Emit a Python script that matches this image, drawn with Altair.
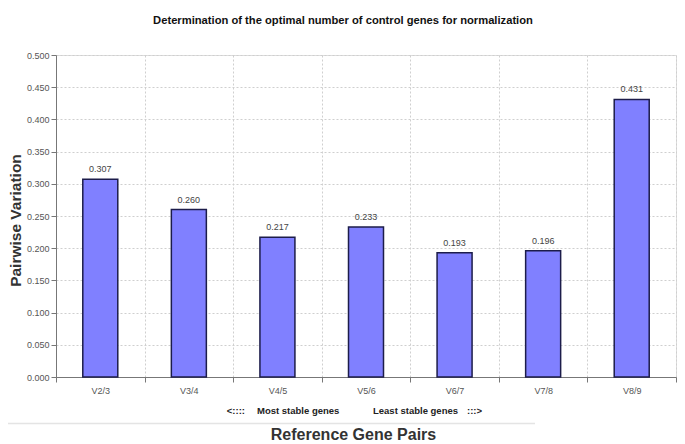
import altair as alt
import pandas as pd

pairs = ["V2/3", "V3/4", "V4/5", "V5/6", "V6/7", "V7/8", "V8/9"]
values = [0.307, 0.260, 0.217, 0.233, 0.193, 0.196, 0.431]
y_ticks = [0.0, 0.05, 0.10, 0.15, 0.20, 0.25, 0.30, 0.35, 0.40, 0.45, 0.50]
notes = ["<::::", "Most stable genes", "Least stable genes", ":::>"]

df = pd.DataFrame({"pair": pairs, "value": values})

W, H = 620, 322
FONT = "Liberation Sans"

xscale = alt.Scale(domain=pairs, paddingInner=0, paddingOuter=0)
yscale = alt.Scale(domain=[0, 0.5], nice=False)

x_enc = alt.X(
    "pair:N", scale=xscale, sort=pairs,
    axis=alt.Axis(
        title="Reference Gene Pairs", titleFont=FONT, titleFontSize=16,
        titleFontWeight="bold", titleColor="#333333", titleBaseline="top",
        titleX=297, titleY=49,
        labelAngle=0, labelFont=FONT, labelFontSize=9, labelColor="#555555",
        labelPadding=4, tickBand="extent", tickSize=5, tickColor="#777777",
        domainColor="#777777", grid=True, gridDash=[2, 2], gridColor="#cfcfcf",
    ),
)
y_enc = alt.Y(
    "value:Q", scale=yscale,
    axis=alt.Axis(
        values=y_ticks, format=".3f", title="Pairwise Variation",
        titleFont=FONT, titleFontSize=15.5, titleFontWeight="bold",
        titleColor="#333333", titleX=-33, titleY=165,
        labelFont=FONT, labelFontSize=9, labelColor="#555555", labelPadding=2,
        labelOverlap=False,
        tickSize=5, tickColor="#777777", domainColor="#777777",
        grid=True, gridDash=[2, 2], gridColor="#cfcfcf",
    ),
)

bars = alt.Chart(df).mark_bar(
    size=35, color="#8080FF", stroke="#1c1c4a", strokeWidth=1.5
).encode(x=x_enc, y=y_enc)

labels = alt.Chart(df).mark_text(
    baseline="bottom", dy=-5, font=FONT, fontSize=9, color="#444444"
).encode(
    x=x_enc,
    y=y_enc,
    text=alt.Text("value:Q", format=".3f"),
)

one = pd.DataFrame({"a": [0]})
sep = alt.Chart(one).mark_rule(color="#e4e4e4", strokeWidth=1.5).encode(
    x=alt.value(-48), x2=alt.value(479), y=alt.value(368.5)
)


def note(text, x, align):
    return alt.Chart(one).mark_text(
        align=align, baseline="middle", font=FONT, fontSize=9.5,
        fontWeight="bold", color="#222222"
    ).encode(x=alt.value(x), y=alt.value(356), text=alt.value(text))


note_layers = [
    note(notes[0], 189, "right"),
    note(notes[1], 201, "left"),
    note(notes[2], 317, "left"),
    note(notes[3], 411, "left"),
]

chart = alt.layer(bars, labels, sep, *note_layers).properties(
    width=W, height=H,
    title=alt.TitleParams(
        "Determination of the optimal number of control genes for normalization",
        font=FONT, fontSize=11.2, fontWeight="bold", color="#111111",
        anchor="middle", dx=-23, offset=25,
    ),
    autosize=alt.AutoSizeParams(type="none"),
    padding={"left": 48, "top": 47, "right": 1, "bottom": 70},
).configure_view(stroke="#a8a8a8", strokeWidth=1).configure(background="white")

chart.save("out.html", embed_options={"renderer": "svg", "actions": False})
